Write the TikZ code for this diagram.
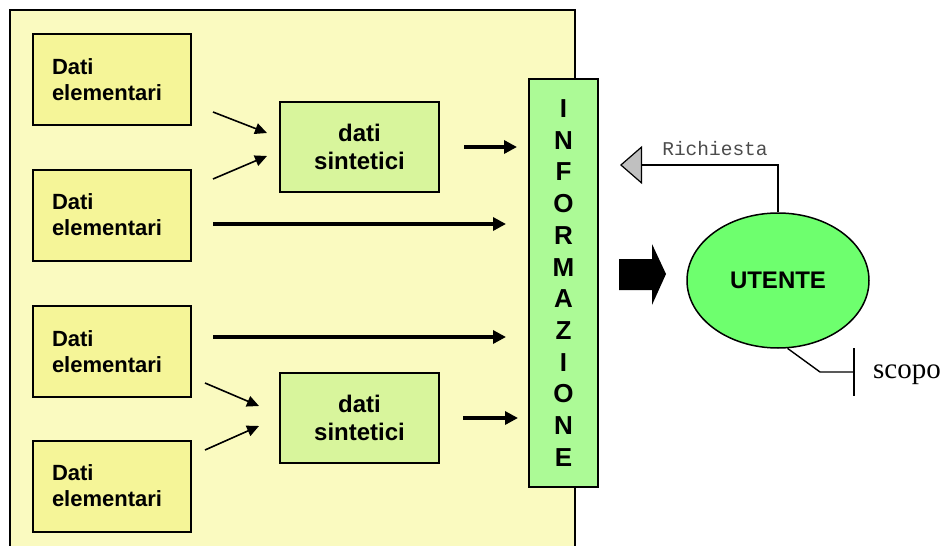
\documentclass[tikz,border=0pt]{standalone}
\usepackage{fontspec}
\setmainfont{Liberation Sans}
\newfontfamily\monofont{Liberation Mono}
\newfontfamily\serifont{Liberation Serif}
\usetikzlibrary{arrows.meta,shapes.geometric}

\definecolor{sfondo}{RGB}{250,250,192}
\definecolor{giallo}{RGB}{245,245,152}
\definecolor{verdino}{RGB}{216,245,156}
\definecolor{verde}{RGB}{172,250,150}
\definecolor{verdeutente}{RGB}{110,255,110}
\definecolor{grigio}{RGB}{192,192,192}

\tikzset{%
    elem/.style={rectangle,draw=black,line width=2pt,fill=giallo,
        minimum width=158pt,minimum height=91pt,text width=120pt,
        inner xsep=19pt,align=left,font=\bfseries\fontsize{22}{26}\selectfont}
}

\begin{document}
\begin{tikzpicture}[x=1pt,y=-1pt,
        sint/.style={rectangle,draw=black,line width=2pt,fill=verdino,
            minimum width=159pt,minimum height=90pt,align=center,
            font=\bfseries\fontsize{24}{28}\selectfont},
        thin/.style={line width=1.6pt,-{Triangle[length=12pt,width=11pt]}},
        fat/.style={line width=4.5pt,-{Triangle[length=13pt,width=13pt]}}
        ]
        \useasboundingbox (0,0) rectangle (946,546);
        \clip (0,0) rectangle (946,546);

        % contenitore dei dati
        \draw[line width=2pt,fill=sfondo] (10,10) rectangle (575,570);

        \node[elem] (e1) at (112,79.5){Dati\\elementari};
        \node[elem] (e2) at (112,215){Dati\\elementari};
        \node[elem] (e3) at (112,351.5){Dati\\elementari};
        \node[elem] (e4) at (112,486){Dati\\elementari};

        \node[sint] (s1) at (359.5,147){dati\\sintetici};
        \node[sint] (s2) at (359.5,418){dati\\sintetici};

        \node[rectangle,draw=black,line width=2pt,fill=verde,
            minimum width=69pt,minimum height=408pt,align=center,
            font=\bfseries\fontsize{26}{31.7}\selectfont] (info) at (563.5,283)
            {I\\N\\F\\O\\R\\M\\A\\Z\\I\\O\\N\\E};

        \node[ellipse,draw=black,line width=1.5pt,fill=verdeutente,
            minimum width=182pt,minimum height=135pt,inner sep=0pt,
            font=\bfseries\fontsize{24}{28}\selectfont] (u) at (778,280.5){UTENTE};

        % frecce dai dati elementari
        \coordinate (a1) at (213,112);
        \coordinate (b1) at (267,133);
        \coordinate (a2) at (213,179);
        \coordinate (b2) at (267,156);
        \coordinate (a3) at (205,383);
        \coordinate (b3) at (259,406);
        \coordinate (a4) at (205,450);
        \coordinate (b4) at (259,426);
        \coordinate (c1) at (213,224);
        \coordinate (c2) at (213,337);

        \draw[thin] (a1) -- (b1);
        \draw[thin] (a2) -- (b2);
        \draw[thin] (a3) -- (b3);
        \draw[thin] (a4) -- (b4);

        \draw[fat,shorten <=24pt,shorten >=11pt] (s1.east) -- (s1.east -| info.west);
        \draw[fat,shorten <=23pt,shorten >=10pt] (s2.east) -- (s2.east -| info.west);
        \draw[fat,shorten >=22pt] (c1) -- (c1 -| info.west);
        \draw[fat,shorten >=22pt] (c2) -- (c2 -| info.west);

        % freccia piena verso l'utente
        \fill (619,259) -- (652,259) -- (652,244) -- (666,274) -- (652,305)
            -- (652,290) -- (619,290) -- cycle;

        % richiesta
        \coordinate (rq) at (620,165);
        \draw[line width=1.5pt,
            -{Triangle[length=22pt,width=38pt,fill=grigio,line width=1.2pt]}]
            (u.north) |- (rq);
        \node[anchor=base,inner sep=0pt,text=black!70,
            font=\monofont\fontsize{19.5}{19.5}\selectfont] (rqlab) at (715,155){Richiesta};

        % scopo
        \coordinate (sg) at (820,372);
        \coordinate (st) at (854,372);
        \coordinate (tt) at (854,348);
        \coordinate (tb) at (854,396);
        \draw[line width=1.4pt] (u.-82) -- (sg) -- (st);
        \draw[line width=1.4pt] (tt) -- (tb);
        \node[anchor=base west,inner sep=0pt,
            font=\serifont\fontsize{29}{29}\selectfont] (scopo) at (873,378){scopo};
    \end{tikzpicture}
\end{document}
